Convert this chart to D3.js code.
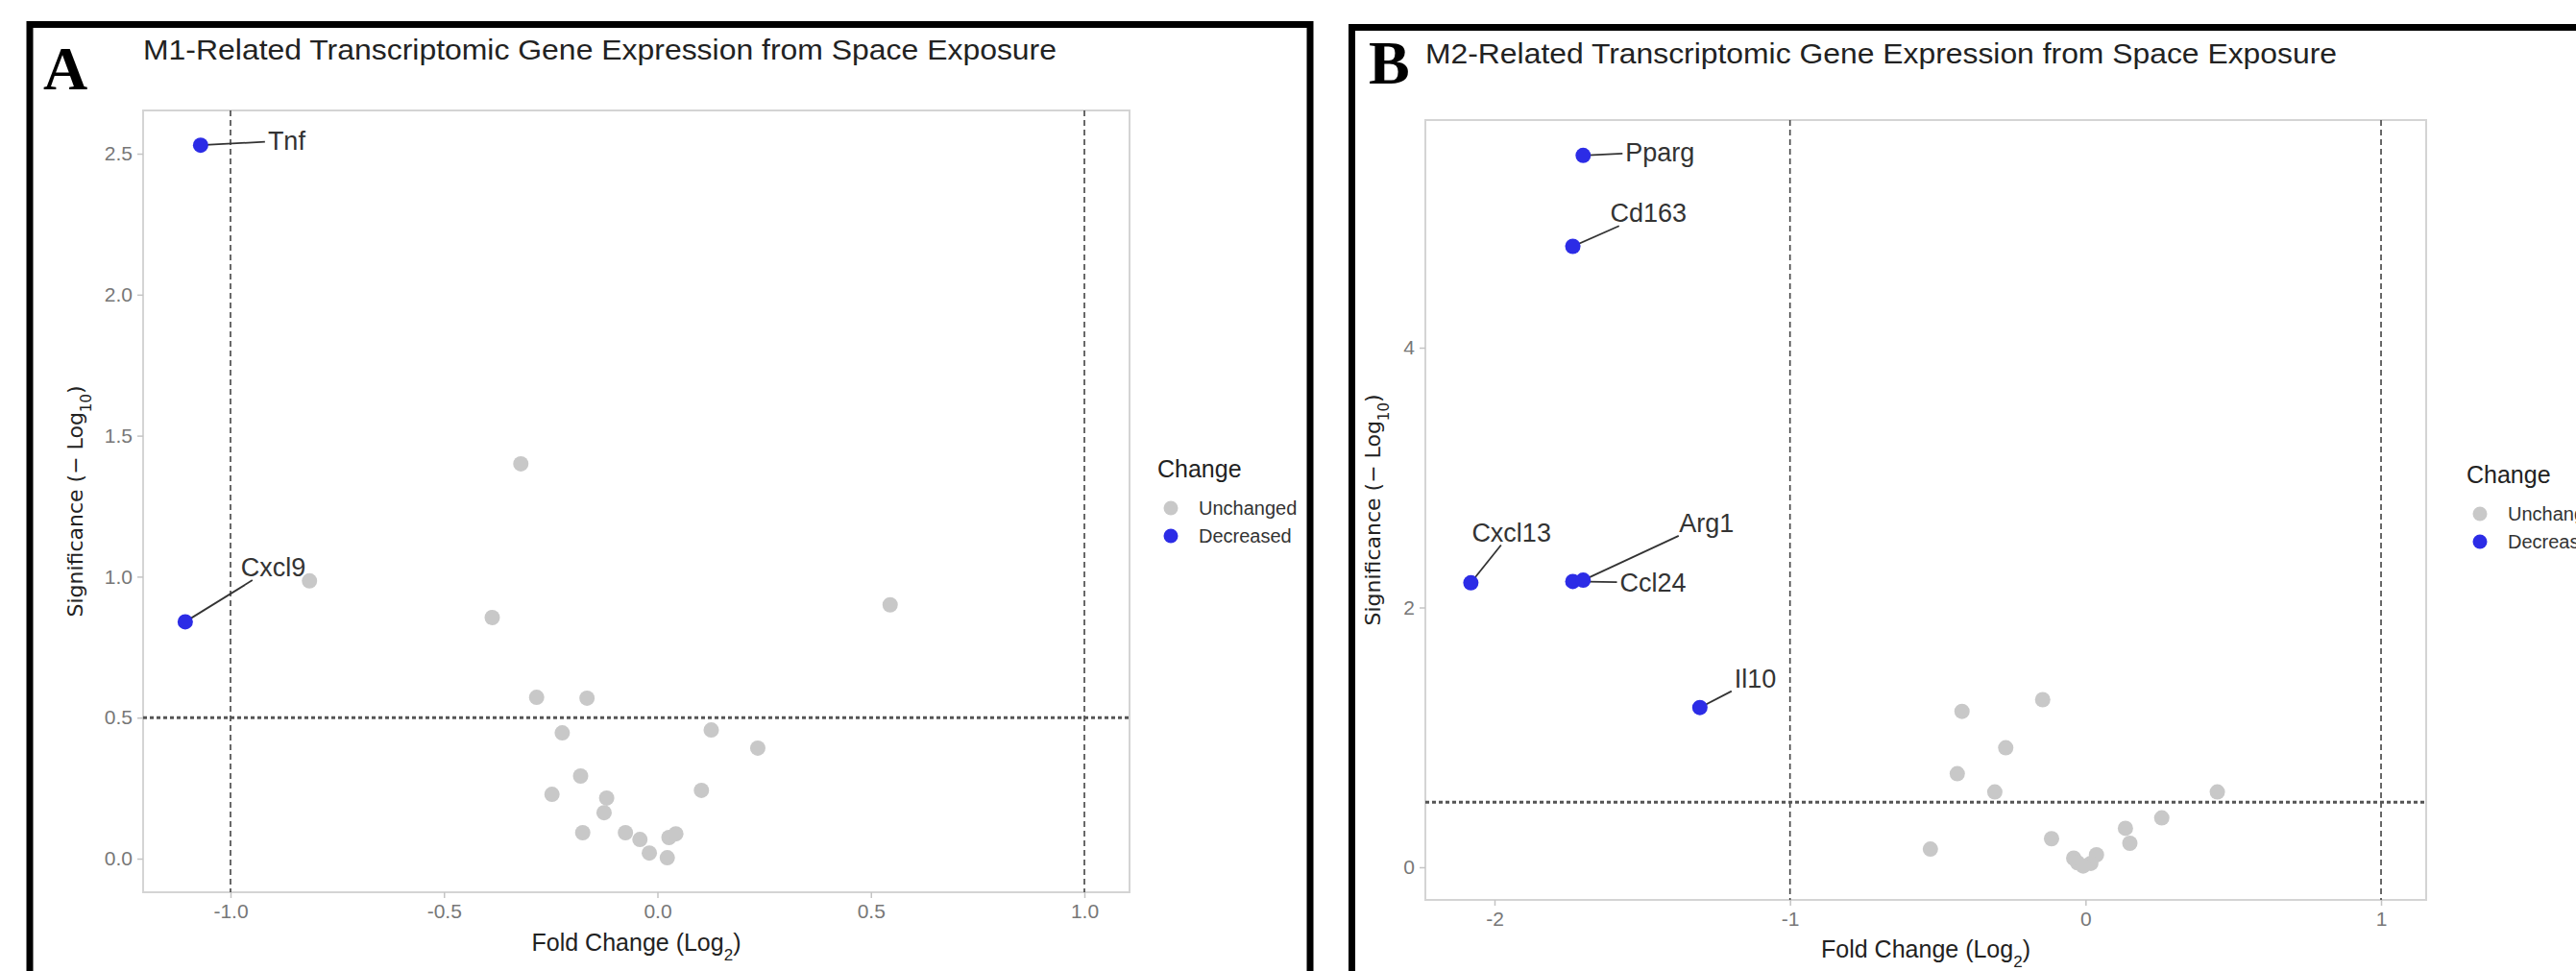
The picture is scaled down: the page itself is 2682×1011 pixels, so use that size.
<!DOCTYPE html>
<html>
<head>
<meta charset="utf-8">
<script src="https://cdn.jsdelivr.net/npm/d3@7"></script>
<style>
  body { margin: 0; background: #ffffff; }
  svg { display: block; }
  text { font-family: "Liberation Sans", Arial, Helvetica, sans-serif; }
</style>
</head>
<body>
<div id="figure"></div>
<script>
// Chart data
// ================================
var changeLevels = ["Unchanged", "Decreased"];

// Panel A (M1 genes)
var titleA = "M1-Related Transcriptomic Gene Expression from Space Exposure";
var geneA = ["Tnf", "Cxcl9", "", "", "", "", "", "", "", "", "", "", "", "", "", "", "", "", "", "", "", "", ""];
var foldA = [-1.07, -1.106, -0.32, -0.815, -0.387, 0.545, -0.283, -0.165, -0.223, 0.126, 0.235,
  -0.18, -0.247, -0.119, 0.103, -0.125, -0.175, -0.075, -0.041, 0.027, 0.043, -0.019, 0.023];
var sigA = [2.53, 0.84, 1.40, 0.985, 0.855, 0.90, 0.572, 0.569, 0.446, 0.456, 0.392,
  0.293, 0.228, 0.215, 0.242, 0.163, 0.092, 0.092, 0.068, 0.075, 0.088, 0.02, 0.003];
var changeA = ["Decreased", "Decreased", "Unchanged", "Unchanged", "Unchanged", "Unchanged", "Unchanged",
  "Unchanged", "Unchanged", "Unchanged", "Unchanged", "Unchanged", "Unchanged", "Unchanged", "Unchanged",
  "Unchanged", "Unchanged", "Unchanged", "Unchanged", "Unchanged", "Unchanged", "Unchanged", "Unchanged"];
var xTicksA = [-1.0, -0.5, 0.0, 0.5, 1.0];
var yTicksA = [0.0, 0.5, 1.0, 1.5, 2.0, 2.5];

// Panel B (M2 genes)
var titleB = "M2-Related Transcriptomic Gene Expression from Space Exposure";
var geneB = ["Pparg", "Cd163", "Cxcl13", "Ccl24", "Arg1", "Il10", "", "", "", "", "", "", "", "", "", "", "", "", "", "", "", ""];
var foldB = [-1.70, -1.735, -2.08, -1.735, -1.70, -1.305, -0.145, -0.418, -0.27, -0.434, -0.307,
  0.446, 0.258, 0.135, -0.115, 0.15, -0.525, 0.037, -0.04, -0.027, 0.018, -0.008];
var sigB = [5.48, 4.78, 2.19, 2.20, 2.21, 1.23, 1.29, 1.20, 0.92, 0.72, 0.58,
  0.58, 0.38, 0.30, 0.22, 0.185, 0.14, 0.096, 0.07, 0.035, 0.03, 0.01];
var changeB = ["Decreased", "Decreased", "Decreased", "Decreased", "Decreased", "Decreased",
  "Unchanged", "Unchanged", "Unchanged", "Unchanged", "Unchanged", "Unchanged", "Unchanged", "Unchanged",
  "Unchanged", "Unchanged", "Unchanged", "Unchanged", "Unchanged", "Unchanged", "Unchanged", "Unchanged"];
var xTicksB = [-2, -1, 0, 1];
var yTicksB = [0, 2, 4];

// cutoffs drawn as dashed lines
var foldCutoffs = [-1, 1];
var sigCutoff = 0.5;

// Set up the page
// ================================
var svgWidth = 2682;
var svgHeight = 1011;

var svg = d3
  .select("#figure")
  .append("svg")
  .attr("width", svgWidth)
  .attr("height", svgHeight);

svg.append("rect").attr("width", svgWidth).attr("height", svgHeight).attr("fill", "#ffffff");

var colors = d3.scaleOrdinal().domain(changeLevels).range(["#c8c8c8", "#2c2ce6"]);

// label placement (pixels from the point: start of text, middle of text)
var labelNudge = {
  Tnf: [70, -5],
  Cxcl9: [58, -57],
  Pparg: [44, -4],
  Cd163: [39, -35],
  Cxcl13: [1, -53],
  Ccl24: [49, 1],
  Arg1: [100, -60],
  Il10: [36, -30],
};

function drawPanel(cfg) {
  var x = d3.scaleLinear().domain(cfg.xDomain).range([cfg.left, cfg.right]);
  var y = d3.scaleLinear().domain(cfg.yDomain).range([cfg.bottom, cfg.top]);

  var g = svg.append("g");

  // black frame around the panel
  g.append("rect")
    .attr("x", cfg.frame[0])
    .attr("y", cfg.frame[1])
    .attr("width", cfg.frame[2])
    .attr("height", 1200)
    .attr("fill", "none")
    .attr("stroke", "#000")
    .attr("stroke-width", 7);

  // panel letter
  g.append("text")
    .attr("x", cfg.letterPos[0])
    .attr("y", cfg.letterPos[1])
    .style("font-family", "'Liberation Serif', 'Times New Roman', serif")
    .style("font-weight", "bold")
    .style("font-size", "64px")
    .text(cfg.letter);

  // title
  g.append("text")
    .attr("x", cfg.left)
    .attr("y", cfg.titleY)
    .attr("textLength", cfg.titleLen)
    .attr("lengthAdjust", "spacingAndGlyphs")
    .style("font-size", "30px")
    .attr("fill", "#222")
    .text(cfg.title);

  // panel border
  g.append("rect")
    .attr("x", cfg.left)
    .attr("y", cfg.top)
    .attr("width", cfg.right - cfg.left)
    .attr("height", cfg.bottom - cfg.top)
    .attr("fill", "none")
    .attr("stroke", "#d4d4d4")
    .attr("stroke-width", 2);

  // axes
  var bottomAxis = d3.axisBottom(x).tickValues(cfg.xTicks).tickFormat(cfg.fmt).tickSize(6).tickPadding(6);
  var leftAxis = d3.axisLeft(y).tickValues(cfg.yTicks).tickFormat(cfg.fmt).tickSize(6).tickPadding(5);

  var xAxis = g.append("g").attr("transform", `translate(0, ${cfg.bottom})`).call(bottomAxis);
  var yAxis = g.append("g").attr("transform", `translate(${cfg.left}, 0)`).call(leftAxis);

  [xAxis, yAxis].forEach(function (ax) {
    ax.select(".domain").remove();
    ax.selectAll("line").attr("stroke", "#c4c4c4").attr("stroke-width", 1.5);
    ax.selectAll("text")
      .attr("fill", "#777")
      .style("font-size", "21px")
      .style("font-family", "'Liberation Sans', Arial, sans-serif");
  });

  // axis titles
  var xt = g.append("text")
    .attr("x", (cfg.left + cfg.right) / 2)
    .attr("y", cfg.xTitleY)
    .attr("text-anchor", "middle")
    .attr("fill", "#222")
    .style("font-size", "25px");
  xt.append("tspan").text("Fold Change (Log");
  xt.append("tspan").attr("baseline-shift", "sub").style("font-size", "17px").text("2");
  xt.append("tspan").text(")");

  var yt = g.append("text")
    .attr("transform", `translate(${cfg.yTitleX}, ${(cfg.top + cfg.bottom) / 2}) rotate(-90)`)
    .attr("text-anchor", "middle")
    .attr("fill", "#222")
    .style("font-family", "'DejaVu Sans', Verdana, sans-serif")
    .style("font-size", "22px");
  yt.append("tspan").text("Significance (\u2212 Log");
  yt.append("tspan").attr("baseline-shift", "sub").style("font-size", "15px").text("10");
  yt.append("tspan").text(")");

  // cutoff lines
  g.selectAll(".vcut")
    .data(foldCutoffs)
    .enter()
    .append("line")
    .attr("x1", (d) => x(d))
    .attr("x2", (d) => x(d))
    .attr("y1", cfg.top)
    .attr("y2", cfg.bottom)
    .attr("stroke", "#444")
    .attr("stroke-width", 1.6)
    .attr("stroke-dasharray", "6,4");

  g.append("line")
    .attr("x1", cfg.left)
    .attr("x2", cfg.right)
    .attr("y1", y(sigCutoff))
    .attr("y2", y(sigCutoff))
    .attr("stroke", "#555")
    .attr("stroke-width", 3)
    .attr("stroke-dasharray", "4,3");

  // build rows from the arrays
  var rows = cfg.genes.map(function (name, i) {
    return { gene: name, fold: cfg.fold[i], sig: cfg.sig[i], change: cfg.change[i] };
  });

  // gene labels with leader segments (segment aims at the label centre)
  var labelled = rows.filter((d) => d.gene !== "");
  var segGroup = g.append("g");
  var labelGroup = g.append("g");

  labelled.forEach(function (d) {
    var px = x(d.fold);
    var py = y(d.sig);
    var nudge = labelNudge[d.gene];
    var t = labelGroup
      .append("text")
      .attr("x", px + nudge[0])
      .attr("y", py + nudge[1])
      .attr("dy", "0.36em")
      .attr("fill", "#333")
      .style("font-size", "27px")
      .text(d.gene);
    var bb = t.node().getBBox();
    var pad = 3;
    var x0 = bb.x - pad, x1 = bb.x + bb.width + pad;
    var y0 = bb.y + 4 - pad, y1 = bb.y + bb.height - 5 + pad;
    var cx = (x0 + x1) / 2, cy = (y0 + y1) / 2;
    var dx = cx - px, dy = cy - py;
    var tMin = 1;
    if (dx !== 0) {
      [x0, x1].forEach(function (edge) {
        var tt = (edge - px) / dx;
        var yy = py + tt * dy;
        if (tt > 0 && tt < tMin && yy >= y0 - 0.01 && yy <= y1 + 0.01) tMin = tt;
      });
    }
    if (dy !== 0) {
      [y0, y1].forEach(function (edge) {
        var tt = (edge - py) / dy;
        var xx = px + tt * dx;
        if (tt > 0 && tt < tMin && xx >= x0 - 0.01 && xx <= x1 + 0.01) tMin = tt;
      });
    }
    segGroup
      .append("line")
      .attr("x1", px)
      .attr("y1", py)
      .attr("x2", px + tMin * dx)
      .attr("y2", py + tMin * dy)
      .attr("stroke", "#333")
      .attr("stroke-width", 1.8);
  });

  // points (unchanged first so the blue ones sit on top)
  var ordered = rows.slice().sort((a, b) => changeLevels.indexOf(a.change) - changeLevels.indexOf(b.change));
  g.append("g")
    .selectAll("circle")
    .data(ordered)
    .enter()
    .append("circle")
    .attr("cx", (d) => x(d.fold))
    .attr("cy", (d) => y(d.sig))
    .attr("r", 8)
    .attr("fill", (d) => colors(d.change));

  // legend
  var legend = g.append("g").attr("transform", `translate(${cfg.legendPos[0]}, ${cfg.legendPos[1]})`);
  legend.append("text")
    .attr("x", 0)
    .attr("y", 0)
    .attr("fill", "#222")
    .style("font-size", "25px")
    .text("Change");
  var items = legend
    .selectAll(".item")
    .data(changeLevels)
    .enter()
    .append("g")
    .attr("transform", (d, i) => `translate(0, ${32 + i * 29})`);
  items.append("circle").attr("cx", 14).attr("cy", 0).attr("r", 7.5).attr("fill", (d) => colors(d));
  items.append("text")
    .attr("x", 43)
    .attr("y", 0)
    .attr("dy", "0.35em")
    .attr("fill", "#333")
    .style("font-size", "20px")
    .text((d) => d);
}

// Panel A
drawPanel({
  letter: "A",
  letterPos: [45, 93],
  frame: [31, 25.5, 1333],
  title: titleA,
  titleY: 62,
  titleLen: 951,
  genes: geneA,
  fold: foldA,
  sig: sigA,
  change: changeA,
  xDomain: [-1.2047, 1.1057],
  yDomain: [-0.1192, 2.6533],
  left: 149,
  right: 1176,
  top: 115,
  bottom: 929,
  xTicks: xTicksA,
  yTicks: yTicksA,
  fmt: (d) => d.toFixed(1),
  xTitleY: 990,
  yTitleX: 86,
  legendPos: [1205, 497],
});

// Panel B
drawPanel({
  letter: "B",
  letterPos: [1425, 87],
  frame: [1407.5, 28.5, 1400],
  title: titleB,
  titleY: 66,
  titleLen: 949,
  genes: geneB,
  fold: foldB,
  sig: sigB,
  change: changeB,
  xDomain: [-2.234, 1.1527],
  yDomain: [-0.2514, 5.7524],
  left: 1484,
  right: 2526,
  top: 125,
  bottom: 937,
  xTicks: xTicksB,
  yTicks: yTicksB,
  fmt: (d) => String(d),
  xTitleY: 997,
  yTitleX: 1437,
  legendPos: [2568, 503],
});
</script>
</body>
</html>
